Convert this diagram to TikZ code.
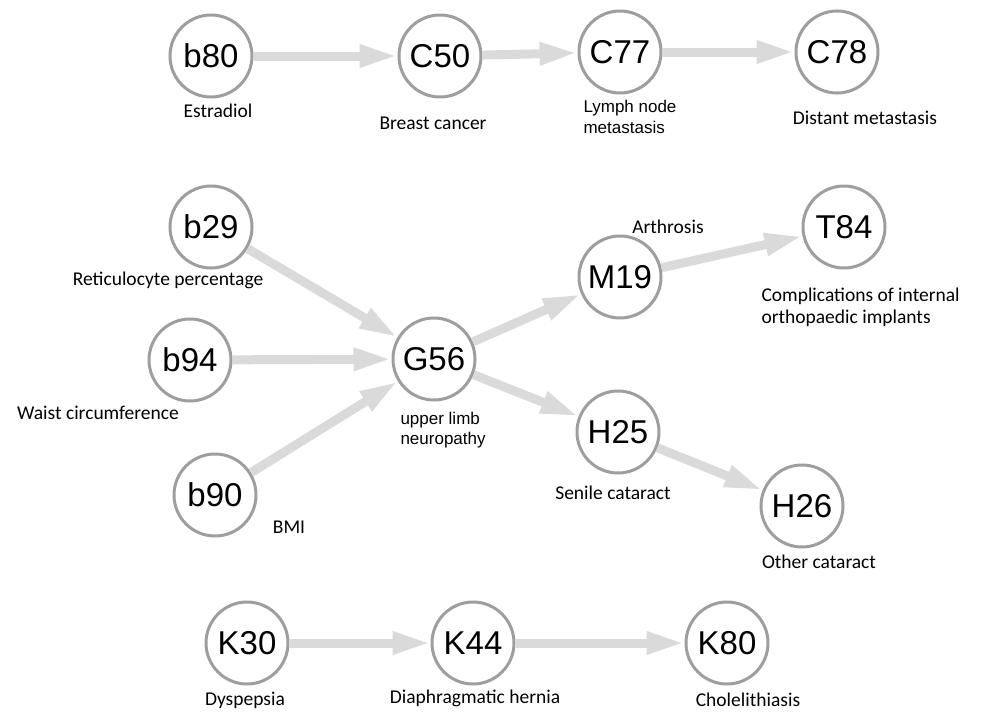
\documentclass[tikz,border=0pt]{standalone}
\usepackage{fontspec}
\setmainfont{Liberation Sans}
\newfontfamily\notefont{Carlito}
\usetikzlibrary{arrows.meta}
\definecolor{ringgray}{HTML}{9E9E9E}
\definecolor{linkgray}{HTML}{DADADA}
\tikzset{
  code/.style={circle, draw=ringgray, line width=3pt, minimum size=82pt, inner sep=0pt,
    fill=white, font=\fontsize{33}{33}\selectfont},
  note/.style={font=\notefont\fontsize{19.5}{23}\selectfont},
  anote/.style={font=\fontsize{17}{20.5}\selectfont, align=left, anchor=west},
  cnote/.style={font=\notefont\fontsize{19.5}{22}\selectfont, align=left, anchor=west},
  link/.style={draw=linkgray, line width=9pt, -{Triangle[length=38pt,width=21pt]}}
}
\begin{document}
\begin{tikzpicture}[x=1pt,y=-1pt]
      \useasboundingbox (0,0) rectangle (983,712);
      % circle centres
      \path
        (211,56) coordinate (pb80)
        (440,56) coordinate (pC50)
        (620,52) coordinate (pC77)
        (837,52) coordinate (pC78)
        (211,227) coordinate (pb29)
        (190,360) coordinate (pb94)
        (215,495) coordinate (pb90)
        (434,359) coordinate (pG56)
        (620,277) coordinate (pM19)
        (844,227) coordinate (pT84)
        (618,432) coordinate (pH25)
        (802,506) coordinate (pH26)
        (247,643) coordinate (pK30)
        (473,643) coordinate (pK44)
        (727,643) coordinate (pK80);
      \draw
        (pb80) node[code] (b80){b80}
        (pC50) node[code] (C50){C50}
        (pC77) node[code] (C77){C77}
        (pC78) node[code] (C78){C78}
        (pb29) node[code] (b29){b29}
        (pb94) node[code] (b94){b94}
        (pb90) node[code] (b90){b90}
        (pG56) node[code] (G56){G56}
        (pM19) node[code] (M19){M19}
        (pT84) node[code] (T84){T84}
        (pH25) node[code] (H25){H25}
        (pH26) node[code] (H26){H26}
        (pK30) node[code] (K30){K30}
        (pK44) node[code] (K44){K44}
        (pK80) node[code] (K80){K80};
      \draw
        (218,111) node[note] (estradiol){Estradiol}
        (433,123) node[note] (breast){Breast cancer}
        (580,117) node[anote] (lymph){Lymph node\\metastasis}
        (865,118) node[note] (distant){Distant metastasis}
        (168,280) node[note] (reticulo){Reticulocyte percentage}
        (98,413) node[note] (waist){Waist circumference}
        (289,527) node[note] (bmi){BMI}
        (397,430) node[anote] (limb){upper limb\\neuropathy}
        (668,227) node[note] (arthrosis){Arthrosis}
        (758,307) node[cnote] (implants){Complications of internal\\orthopaedic implants}
        (613,493) node[note] (senile){Senile cataract}
        (819,562) node[note] (other){Other cataract}
        (245,700) node[note] (dyspepsia){Dyspepsia}
        (475,698) node[note] (hernia){Diaphragmatic hernia}
        (748,700) node[note] (chole){Cholelithiasis};
      \begin{scope}[link]
        \draw (b80) to (C50);
        \draw (C50) to (C77);
        \draw (C77) to (C78);
        \draw (b29) to (G56);
        \draw (b94) to (G56);
        \draw (b90) to (G56);
        \draw (G56) to (M19);
        \draw (G56) to (H25);
        \draw (M19) to (T84);
        \draw (H25) to (H26);
        \draw (K30) to (K44);
        \draw (K44) to (K80);
      \end{scope}
    \end{tikzpicture}
\end{document}
